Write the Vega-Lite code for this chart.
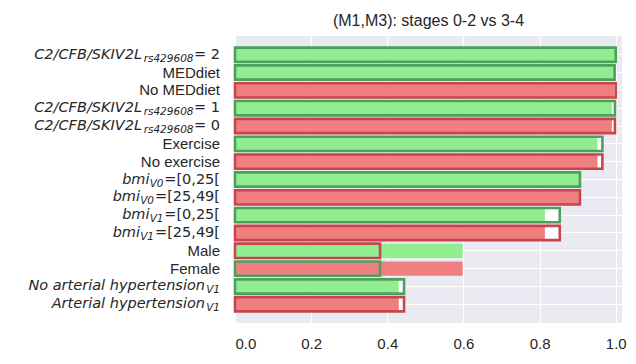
{
  "$schema": "https://vega.github.io/schema/vega-lite/v6.json",
  "autosize": {"type": "none"},
  "width": 387,
  "height": 287,
  "padding": {"left": 235, "top": 36, "right": 14, "bottom": 41},
  "background": "white",
  "title": {"text": "(M1,M3): stages 0-2 vs 3-4", "font": "Liberation Sans", "fontSize": 16, "fontWeight": "normal", "color": "#262626", "offset": 7, "anchor": "middle"},
  "config": {
    "view": {"fill": "#EAEAF2", "stroke": null},
    "axis": {"gridColor": "white", "gridWidth": 1.2, "domain": false, "ticks": false, "labelFont": "Liberation Sans", "labelFontSize": 15, "labelColor": "#262626"}
  },
  "data": {"values": [
    {"row": "C2/CFB/SKIV2L rs429608 = 2", "main": "C2/CFB/SKIV2L", "sub": "rs429608", "suffix": "= 2", "kind": "gene", "fill_value": 1.0, "fill_set": "positive", "outline_value": 1.0, "outline_set": "positive"},
    {"row": "MEDdiet", "main": "MEDdiet", "sub": "", "suffix": "", "kind": "plain", "fill_value": 1.0, "fill_set": "positive", "outline_value": 0.997, "outline_set": "positive"},
    {"row": "No MEDdiet", "main": "No MEDdiet", "sub": "", "suffix": "", "kind": "plain", "fill_value": 0.996, "fill_set": "negative", "outline_value": 1.0, "outline_set": "negative"},
    {"row": "C2/CFB/SKIV2L rs429608 = 1", "main": "C2/CFB/SKIV2L", "sub": "rs429608", "suffix": "= 1", "kind": "gene", "fill_value": 0.99, "fill_set": "positive", "outline_value": 0.998, "outline_set": "positive"},
    {"row": "C2/CFB/SKIV2L rs429608 = 0", "main": "C2/CFB/SKIV2L", "sub": "rs429608", "suffix": "= 0", "kind": "gene", "fill_value": 0.99, "fill_set": "negative", "outline_value": 0.998, "outline_set": "negative"},
    {"row": "Exercise", "main": "Exercise", "sub": "", "suffix": "", "kind": "plain", "fill_value": 0.952, "fill_set": "positive", "outline_value": 0.965, "outline_set": "positive"},
    {"row": "No exercise", "main": "No exercise", "sub": "", "suffix": "", "kind": "plain", "fill_value": 0.952, "fill_set": "negative", "outline_value": 0.965, "outline_set": "negative"},
    {"row": "bmi V0 =[0,25[", "main": "bmi", "sub": "V0", "suffix": "=[0,25[", "kind": "bmi_a", "fill_value": 0.905, "fill_set": "positive", "outline_value": 0.906, "outline_set": "positive"},
    {"row": "bmi V0 =[25,49[", "main": "bmi", "sub": "V0", "suffix": "=[25,49[", "kind": "bmi_b", "fill_value": 0.905, "fill_set": "negative", "outline_value": 0.906, "outline_set": "negative"},
    {"row": "bmi V1 =[0,25[", "main": "bmi", "sub": "V1", "suffix": "=[0,25[", "kind": "bmi_a", "fill_value": 0.814, "fill_set": "positive", "outline_value": 0.853, "outline_set": "positive"},
    {"row": "bmi V1 =[25,49[", "main": "bmi", "sub": "V1", "suffix": "=[25,49[", "kind": "bmi_b", "fill_value": 0.814, "fill_set": "negative", "outline_value": 0.853, "outline_set": "negative"},
    {"row": "Male", "main": "Male", "sub": "", "suffix": "", "kind": "plain", "fill_value": 0.598, "fill_set": "positive", "outline_value": 0.381, "outline_set": "negative"},
    {"row": "Female", "main": "Female", "sub": "", "suffix": "", "kind": "plain", "fill_value": 0.598, "fill_set": "negative", "outline_value": 0.381, "outline_set": "positive"},
    {"row": "No arterial hypertension V1", "main": "No arterial hypertension", "sub": "V1", "suffix": "", "kind": "hyp", "fill_value": 0.43, "fill_set": "positive", "outline_value": 0.444, "outline_set": "positive"},
    {"row": "Arterial hypertension V1", "main": "Arterial hypertension", "sub": "V1", "suffix": "", "kind": "hyp", "fill_value": 0.43, "fill_set": "negative", "outline_value": 0.444, "outline_set": "negative"}
  ]},
  "encoding": {
    "y": {"field": "row", "type": "nominal",
          "sort": ["C2/CFB/SKIV2L rs429608 = 2", "MEDdiet", "No MEDdiet", "C2/CFB/SKIV2L rs429608 = 1", "C2/CFB/SKIV2L rs429608 = 0", "Exercise", "No exercise", "bmi V0 =[0,25[", "bmi V0 =[25,49[", "bmi V1 =[0,25[", "bmi V1 =[25,49[", "Male", "Female", "No arterial hypertension V1", "Arterial hypertension V1"],
          "scale": {"paddingInner": 0.2, "paddingOuter": 0.65},
          "axis": {"title": null, "labels": false, "grid": true, "bandPosition": 0.5}}
  },
  "layer": [
    {"mark": {"type": "bar", "fill": "white", "strokeWidth": 0},
     "encoding": {"x": {"field": "outline_value", "type": "quantitative",
        "scale": {"domain": [0, 1.0165], "nice": false, "zero": true},
        "axis": {"title": null, "values": [0, 0.2, 0.4, 0.6, 0.8, 1.0], "format": ".1f", "labelPadding": 13, "grid": true}}}},
    {"mark": {"type": "bar", "strokeWidth": 0},
     "encoding": {"x": {"field": "fill_value", "type": "quantitative"},
       "color": {"field": "fill_set", "type": "nominal", "scale": {"domain": ["positive", "negative"], "range": ["#90EE90", "#F08080"]}, "legend": null}}},
    {"mark": {"type": "bar", "fill": "transparent", "strokeWidth": 2.6},
     "encoding": {"x": {"field": "outline_value", "type": "quantitative"},
       "stroke": {"field": "outline_set", "type": "nominal", "scale": {"domain": ["positive", "negative"], "range": ["#4E9F5D", "#C8454D"]}, "legend": null}}},
    {"transform": [{"filter": "datum.kind == 'plain'"}],
     "mark": {"type": "text", "align": "right", "baseline": "middle", "dx": -15, "font": "Liberation Sans", "fontSize": 15, "color": "#262626"},
     "encoding": {"x": {"datum": 0}, "text": {"field": "main"}}},
    {"transform": [{"filter": "datum.suffix != ''"}],
     "mark": {"type": "text", "align": "right", "baseline": "middle", "dx": -15, "font": "DejaVu Sans", "fontSize": 14.5, "color": "#262626"},
     "encoding": {"x": {"datum": 0}, "text": {"field": "suffix"}}},
    {"transform": [{"filter": "datum.kind == 'gene'"}],
     "mark": {"type": "text", "align": "right", "baseline": "middle", "dx": -41.5, "dy": 4, "font": "DejaVu Sans", "fontStyle": "italic", "fontSize": 10.5, "color": "#262626"},
     "encoding": {"x": {"datum": 0}, "text": {"field": "sub"}}},
    {"transform": [{"filter": "datum.kind == 'gene'"}],
     "mark": {"type": "text", "align": "right", "baseline": "middle", "dx": -93, "font": "DejaVu Sans", "fontStyle": "italic", "fontSize": 14.5, "color": "#262626"},
     "encoding": {"x": {"datum": 0}, "text": {"field": "main"}}},
    {"transform": [{"filter": "datum.kind == 'bmi_a'"}],
     "mark": {"type": "text", "align": "right", "baseline": "middle", "dx": -71.5, "dy": 4, "font": "DejaVu Sans", "fontStyle": "italic", "fontSize": 10.5, "color": "#262626"},
     "encoding": {"x": {"datum": 0}, "text": {"field": "sub"}}},
    {"transform": [{"filter": "datum.kind == 'bmi_a'"}],
     "mark": {"type": "text", "align": "right", "baseline": "middle", "dx": -85.5, "font": "DejaVu Sans", "fontStyle": "italic", "fontSize": 14.5, "color": "#262626"},
     "encoding": {"x": {"datum": 0}, "text": {"field": "main"}}},
    {"transform": [{"filter": "datum.kind == 'bmi_b'"}],
     "mark": {"type": "text", "align": "right", "baseline": "middle", "dx": -81, "dy": 4, "font": "DejaVu Sans", "fontStyle": "italic", "fontSize": 10.5, "color": "#262626"},
     "encoding": {"x": {"datum": 0}, "text": {"field": "sub"}}},
    {"transform": [{"filter": "datum.kind == 'bmi_b'"}],
     "mark": {"type": "text", "align": "right", "baseline": "middle", "dx": -95, "font": "DejaVu Sans", "fontStyle": "italic", "fontSize": 14.5, "color": "#262626"},
     "encoding": {"x": {"datum": 0}, "text": {"field": "main"}}},
    {"transform": [{"filter": "datum.kind == 'hyp'"}],
     "mark": {"type": "text", "align": "right", "baseline": "middle", "dx": -15, "dy": 4, "font": "DejaVu Sans", "fontStyle": "italic", "fontSize": 10.5, "color": "#262626"},
     "encoding": {"x": {"datum": 0}, "text": {"field": "sub"}}},
    {"transform": [{"filter": "datum.kind == 'hyp'"}],
     "mark": {"type": "text", "align": "right", "baseline": "middle", "dx": -30, "font": "DejaVu Sans", "fontStyle": "italic", "fontSize": 14.5, "color": "#262626"},
     "encoding": {"x": {"datum": 0}, "text": {"field": "main"}}}
  ]
}
